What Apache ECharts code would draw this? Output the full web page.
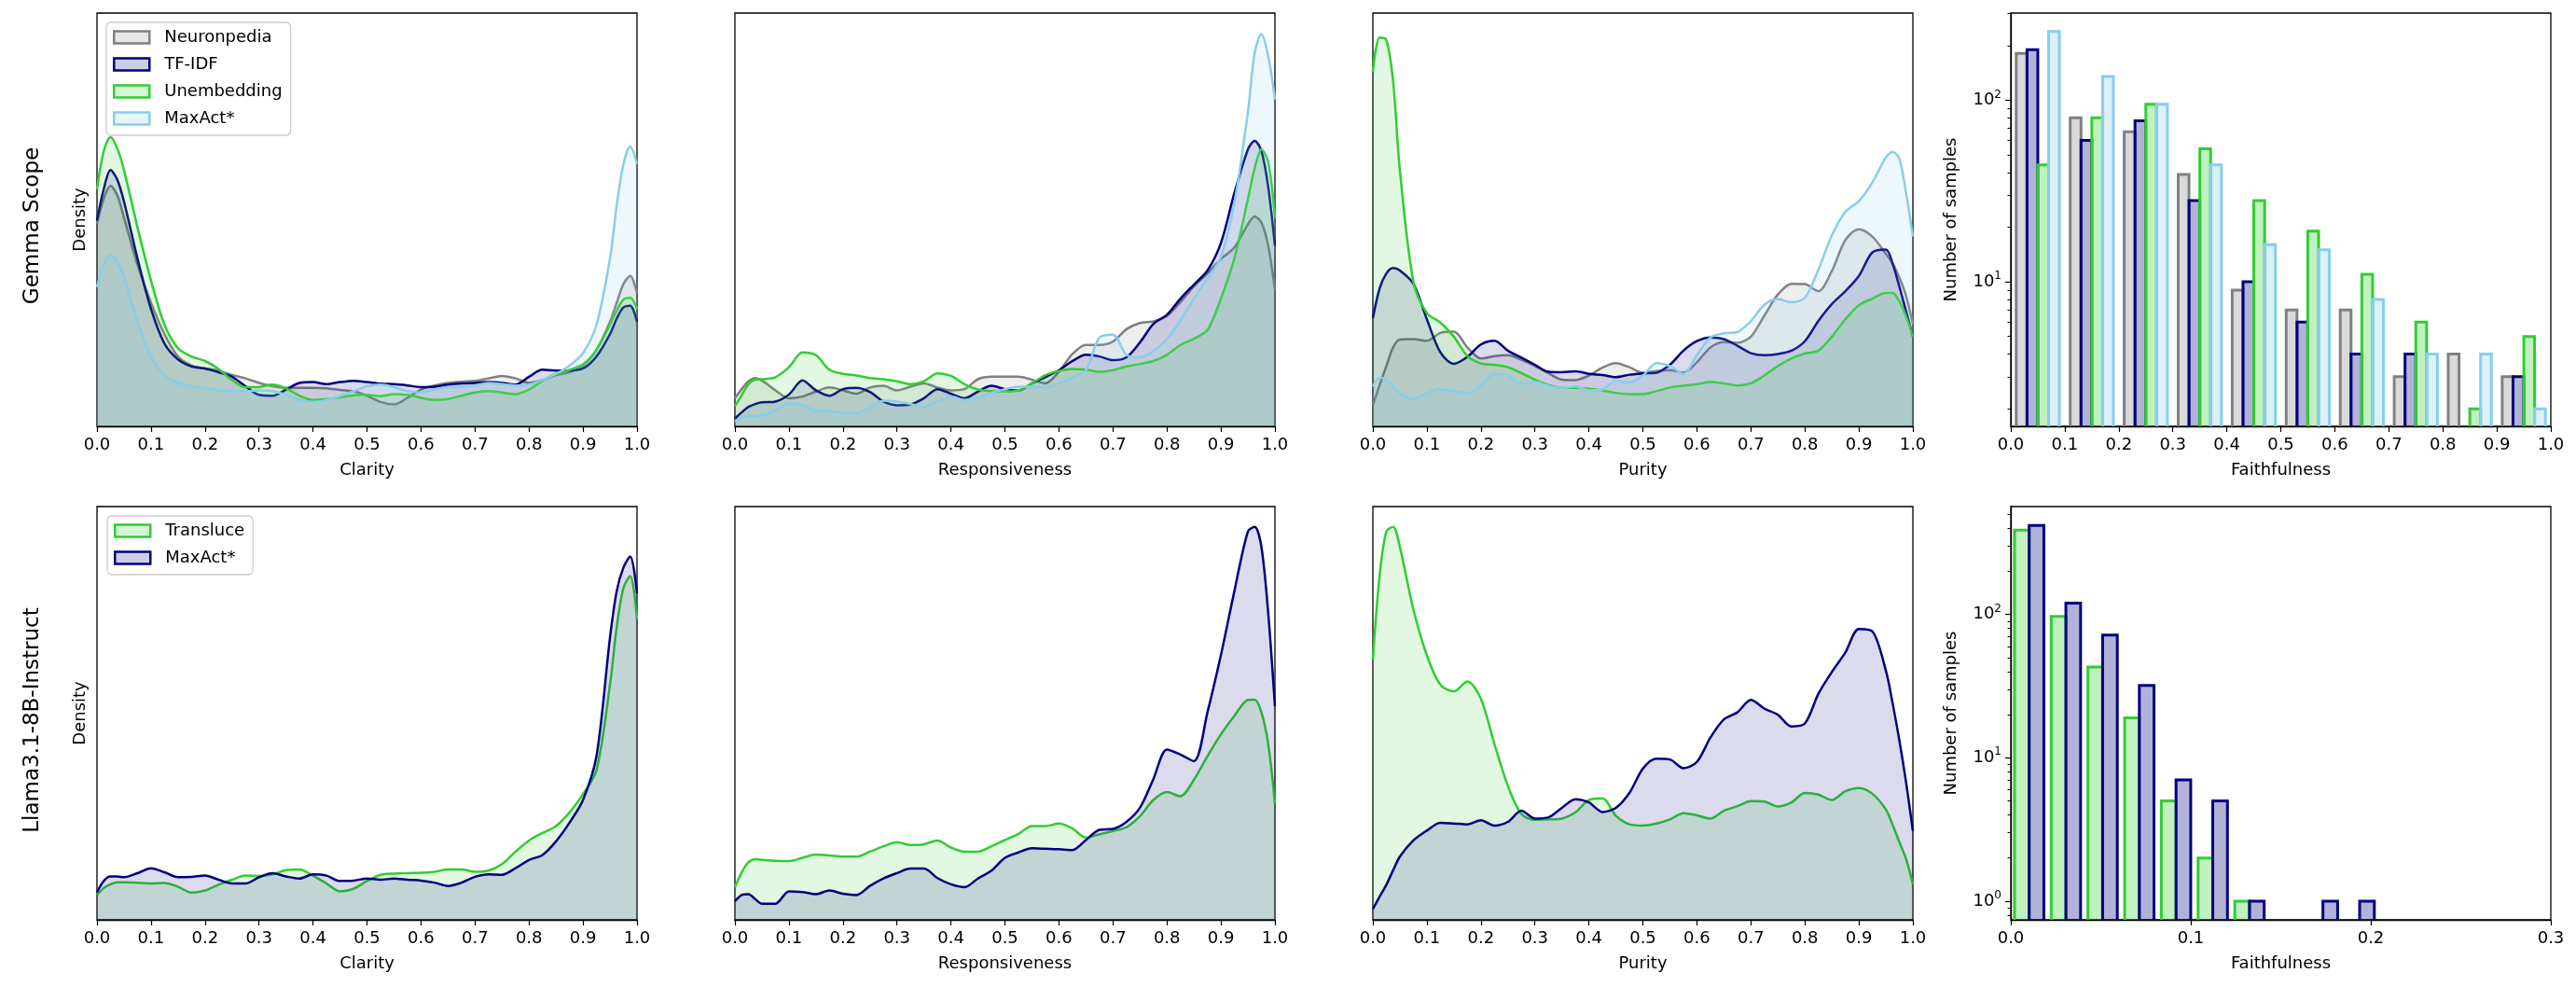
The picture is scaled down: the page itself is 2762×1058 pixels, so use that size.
<!DOCTYPE html>
<html>
<head>
<meta charset="utf-8">
<title>Explanation quality: Gemma Scope vs Llama3.1-8B-Instruct</title>
<script src="https://cdn.jsdelivr.net/npm/echarts@6.0.0/dist/echarts.min.js"></script>
<style>
  html, body { margin: 0; padding: 0; background: #fff; }
  #chart { width: 2762px; height: 1058px; }
</style>
</head>
<body>
<div id="chart"></div>
<script>
// x positions where the density curves were read (denser near the edges)
var X_GRID = [0, 0.0125, 0.025, 0.0375, 0.05, 0.075, 0.1, 0.125, 0.15, 0.175, 0.2, 0.225, 0.25, 0.275, 0.3,
  0.325, 0.35, 0.375, 0.4, 0.425, 0.45, 0.475, 0.5, 0.525, 0.55, 0.575, 0.6, 0.625, 0.65, 0.675, 0.7,
  0.725, 0.75, 0.775, 0.8, 0.825, 0.85, 0.875, 0.9, 0.925, 0.95, 0.9625, 0.975, 0.9875, 1.0];

// --- Gemma Scope: Clarity
var gemmaClarityNeuronpedia = [4.90,5.51,5.82,5.59,5.05,3.91,2.99,2.23,1.69,1.47,1.40,1.35,1.24,1.16,1.05,0.97,0.93,0.93,0.93,0.92,0.88,0.85,0.74,0.59,0.53,0.69,0.89,0.99,1.05,1.08,1.10,1.16,1.22,1.16,1.05,1.12,1.24,1.31,1.47,1.85,2.53,2.99,3.45,3.64,3.22];
var gemmaClarityTfidf = [4.98,5.74,6.20,5.97,5.44,4.06,2.84,2.00,1.62,1.45,1.40,1.31,1.20,0.97,0.76,0.74,0.89,1.05,1.07,1.02,1.07,1.10,1.07,1.03,1.02,0.99,0.95,0.96,1.01,1.04,1.05,1.07,1.05,1.01,1.20,1.37,1.35,1.35,1.40,1.69,2.23,2.61,2.88,2.92,2.53];
var gemmaClarityUnemb = [5.74,6.66,7.00,6.73,6.20,4.82,3.53,2.46,1.89,1.69,1.58,1.39,1.12,0.95,0.95,1.01,0.92,0.74,0.64,0.66,0.70,0.75,0.76,0.73,0.78,0.76,0.69,0.64,0.66,0.74,0.82,0.85,0.82,0.78,0.89,1.10,1.27,1.37,1.50,1.85,2.46,2.80,3.07,3.11,2.84];
var gemmaClarityMaxact = [3.37,3.91,4.15,3.98,3.60,2.53,1.69,1.24,1.05,0.97,0.92,0.87,0.85,0.85,0.87,0.85,0.76,0.64,0.59,0.64,0.74,0.85,0.97,1.01,0.95,0.85,0.82,0.89,0.95,0.95,0.99,1.05,1.02,0.99,1.01,1.12,1.27,1.47,1.77,2.46,4.06,5.36,6.35,6.77,6.35];

// --- Gemma Scope: Responsiveness
var gemmaRespNeuronpedia = [0.68,0.90,1.09,1.17,1.11,0.87,0.68,0.72,0.84,0.94,0.87,0.79,0.94,0.98,0.87,0.96,1.04,0.94,0.87,0.90,1.14,1.20,1.20,1.20,1.13,1.04,1.32,1.75,1.97,1.97,2.05,2.35,2.50,2.54,2.67,3.01,3.39,3.70,4.05,4.33,4.89,5.08,4.93,4.37,3.31];
var gemmaRespTfidf = [0.19,0.34,0.47,0.54,0.58,0.60,0.77,1.11,0.87,0.74,0.90,0.93,0.83,0.60,0.51,0.53,0.68,0.90,0.79,0.68,0.84,0.98,0.90,0.87,1.04,1.19,1.36,1.58,1.73,1.69,1.60,1.67,2.03,2.48,2.70,3.09,3.43,3.77,4.44,5.65,6.70,6.91,6.66,5.80,4.37];
var gemmaRespUnemb = [0.49,0.75,1.02,1.13,1.14,1.19,1.43,1.79,1.72,1.37,1.27,1.23,1.17,1.14,1.09,1.02,1.09,1.28,1.22,1.02,0.89,0.85,0.84,0.87,1.04,1.24,1.34,1.39,1.37,1.32,1.36,1.45,1.51,1.58,1.73,1.97,2.12,2.33,3.09,4.07,5.50,6.25,6.70,6.40,5.05];
var gemmaRespMaxact = [0.11,0.21,0.26,0.25,0.26,0.39,0.56,0.51,0.38,0.36,0.34,0.32,0.45,0.62,0.60,0.54,0.47,0.60,0.72,0.64,0.69,0.81,0.90,0.96,0.96,0.94,1.04,1.18,1.36,2.15,2.22,1.73,1.67,1.82,2.11,2.56,3.09,3.58,4.10,5.42,7.61,9.04,9.49,8.96,7.91];

// --- Gemma Scope: Purity
var gemmaPurityNeuronpedia = [0.51,1.00,1.46,1.91,2.10,2.11,2.07,2.26,2.29,1.91,1.64,1.70,1.72,1.61,1.46,1.29,1.13,1.12,1.23,1.42,1.53,1.43,1.30,1.34,1.36,1.30,1.55,1.91,2.04,2.02,2.17,2.68,3.19,3.45,3.44,3.27,3.76,4.51,4.77,4.59,4.17,3.94,3.60,3.15,2.47];
var gemmaPurityTfidf = [2.62,3.34,3.70,3.83,3.77,3.45,2.59,1.79,1.51,1.68,1.98,2.07,1.83,1.66,1.49,1.32,1.31,1.33,1.27,1.24,1.19,1.25,1.28,1.30,1.49,1.83,2.06,2.15,2.11,1.95,1.77,1.72,1.75,1.83,2.06,2.55,2.96,3.27,3.64,4.21,4.28,3.94,3.38,2.78,2.17];
var gemmaPurityUnemb = [8.58,9.41,9.35,8.35,6.20,3.50,2.74,2.51,2.17,1.70,1.52,1.49,1.43,1.29,1.13,1.00,0.93,0.93,0.91,0.87,0.81,0.78,0.78,0.85,0.94,0.98,1.02,1.07,1.04,0.99,1.04,1.23,1.46,1.64,1.76,1.83,2.17,2.59,2.93,3.09,3.23,3.23,3.02,2.66,2.17];
var gemmaPurityMaxact = [0.97,1.18,1.13,0.97,0.80,0.66,0.80,0.89,0.85,0.80,0.97,1.27,1.23,1.03,1.07,0.98,0.93,0.97,0.87,0.89,1.10,1.06,1.23,1.53,1.46,1.27,1.72,2.15,2.25,2.28,2.55,2.94,3.08,3.00,3.11,3.79,4.62,5.19,5.45,5.90,6.51,6.64,6.47,5.64,4.59];

// --- Llama3.1-8B-Instruct: Clarity / Responsiveness / Purity
var llamaClarityTransluce = [0.60,0.77,0.86,0.91,0.91,0.90,0.88,0.89,0.80,0.66,0.71,0.85,0.97,1.07,1.06,1.10,1.20,1.22,1.07,0.88,0.69,0.75,0.94,1.09,1.12,1.13,1.14,1.16,1.22,1.22,1.16,1.19,1.35,1.65,1.92,2.10,2.27,2.60,3.04,3.62,5.69,7.09,8.04,8.32,7.28];
var llamaClarityMaxact = [0.67,0.94,1.05,1.05,1.03,1.13,1.25,1.15,1.03,1.04,1.07,0.97,0.88,0.88,1.03,1.13,1.05,1.00,1.10,1.07,0.94,0.95,1.00,0.97,1.00,0.97,0.95,0.90,0.82,0.90,1.04,1.10,1.09,1.25,1.45,1.57,1.90,2.35,2.90,3.96,6.83,7.96,8.53,8.79,7.89];
var llamaRespTransluce = [0.79,1.15,1.39,1.47,1.45,1.43,1.42,1.50,1.58,1.56,1.53,1.53,1.65,1.78,1.88,1.81,1.83,1.92,1.75,1.65,1.65,1.78,1.93,2.08,2.27,2.27,2.33,2.21,1.99,2.07,2.15,2.24,2.51,2.90,3.09,2.99,3.39,3.96,4.49,4.94,5.32,5.33,5.02,4.26,2.82];
var llamaRespMaxact = [0.45,0.60,0.62,0.50,0.39,0.39,0.69,0.67,0.62,0.71,0.63,0.60,0.82,1.00,1.13,1.24,1.24,1.01,0.86,0.79,1.00,1.19,1.50,1.63,1.73,1.72,1.71,1.69,1.93,2.18,2.20,2.37,2.71,3.41,4.12,4.00,3.84,5.02,6.41,7.96,9.40,9.51,9.02,7.43,5.17];
var llamaPurityTransluce = [6.30,8.34,9.40,9.51,9.02,7.51,6.40,5.69,5.53,5.77,5.35,4.26,3.24,2.56,2.42,2.43,2.45,2.60,2.90,2.94,2.52,2.31,2.28,2.33,2.43,2.58,2.53,2.45,2.64,2.75,2.87,2.86,2.74,2.84,3.07,3.03,2.90,3.11,3.19,3.05,2.67,2.30,1.88,1.47,0.86];
var llamaPurityMaxact = [0.26,0.56,0.85,1.20,1.53,1.92,2.16,2.35,2.33,2.31,2.41,2.28,2.37,2.64,2.45,2.48,2.71,2.92,2.84,2.61,2.71,3.07,3.66,3.90,3.88,3.67,3.82,4.41,4.85,5.02,5.32,5.11,4.96,4.68,4.75,5.47,6.00,6.47,7.04,6.98,6.03,5.24,4.34,3.32,2.15];

// --- Faithfulness histograms (counts per bin)
var gemmaFaithEdges = [0, 0.1, 0.2, 0.3, 0.4, 0.5, 0.6, 0.7, 0.8, 0.9, 1.0];
var gemmaFaithNeuronpedia = [181, 80, 67, 39, 9, 7, 7, 3, 4, 3];
var gemmaFaithTfidf = [190, 60, 77, 28, 10, 6, 4, 4, 0, 3];
var gemmaFaithUnemb = [44, 80, 95, 54, 28, 19, 11, 6, 2, 5];
var gemmaFaithMaxact = [239, 135, 95, 44, 16, 15, 8, 4, 4, 2];

var llamaFaithEdges = [0, 0.0204, 0.0408, 0.0612, 0.0816, 0.102, 0.1224, 0.1428, 0.1632, 0.1836, 0.204];
var llamaFaithTransluce = [388, 97, 43, 19, 5, 2, 1, 0, 0, 0];
var llamaFaithMaxact = [419, 120, 72, 32, 7, 5, 1, 0, 1, 1];

// log-axis tick values
var gemmaLogMajor = [10, 100];
var gemmaLogMinor = [2, 3, 4, 5, 6, 7, 8, 9, 20, 30, 40, 50, 60, 70, 80, 90, 200, 300];
var llamaLogMajor = [1, 10, 100];
var llamaLogMinor = [0.8, 0.9, 2, 3, 4, 5, 6, 7, 8, 9, 20, 30, 40, 50, 60, 70, 80, 90, 200, 300, 400, 500];

// ---------------------------------------------------------------------------
var FONT = 'DejaVu Sans';
var GRAY = '#808080', NAVY = '#000080', GREEN = '#32cd32', SKY = '#87ceeb';
var GRID_LEFT = [104, 788, 1472, 2156];
var GRID_TOP = [14, 543];
var GRID_W = 579, GRID_H = 443;

function rgba(hex, a) {
  var n = parseInt(hex.slice(1), 16);
  return 'rgba(' + (n >> 16 & 255) + ',' + (n >> 8 & 255) + ',' + (n & 255) + ',' + a + ')';
}

var grids = [], xAxes = [], yAxes = [], series = [];

function addGrid(row, col) {
  grids.push({
    left: GRID_LEFT[col], top: GRID_TOP[row], width: GRID_W, height: GRID_H,
    show: true, borderColor: '#000', borderWidth: 1.3, backgroundColor: 'transparent',
    containLabel: false, outerBoundsMode: 'none'
  });
  return grids.length - 1;
}

function addXAxis(gi, name, max) {
  xAxes.push({
    gridIndex: gi, type: 'value', min: 0, max: max, interval: 0.1,
    name: name, nameLocation: 'middle', nameGap: 38, nameMoveOverlap: false,
    nameTextStyle: { fontFamily: FONT, fontSize: 18, color: '#000' },
    axisLine: { show: true, onZero: false, lineStyle: { color: '#000', width: 1.3 } },
    axisTick: { show: true, length: 6, lineStyle: { color: '#000', width: 1.2 } },
    axisLabel: { fontFamily: FONT, fontSize: 18, color: '#000', margin: 11,
      formatter: function (v) { return v.toFixed(1); } },
    splitLine: { show: false }
  });
  return xAxes.length - 1;
}

function addDensityYAxis(gi, name) {
  yAxes.push({
    gridIndex: gi, type: 'value', min: 0, max: 10,
    name: name, nameLocation: 'middle', nameGap: 9, nameMoveOverlap: false,
    nameTextStyle: { fontFamily: FONT, fontSize: 18, color: '#000' },
    axisLine: { show: false }, axisTick: { show: false }, axisLabel: { show: false },
    splitLine: { show: false }
  });
  return yAxes.length - 1;
}

function addLogYAxis(gi, min, max, majors, minors) {
  yAxes.push({
    gridIndex: gi, type: 'log', logBase: 10, min: min, max: max, position: 'left',
    name: 'Number of samples', nameLocation: 'middle', nameGap: 55, nameMoveOverlap: false,
    nameTextStyle: { fontFamily: FONT, fontSize: 18, color: '#000' },
    axisLine: { show: true, lineStyle: { color: '#000', width: 1.3 } },
    axisTick: { show: true, length: 6, customValues: majors, lineStyle: { color: '#000', width: 1.2 } },
    axisLabel: {
      customValues: majors, margin: 10, color: '#000',
      formatter: function (v) {
        var e = Math.round(Math.log10(v));
        if (Math.abs(Math.log10(v) - e) > 1e-6) return '';
        return '{b|10}{s|' + e + '}';
      },
      rich: {
        b: { fontFamily: FONT, fontSize: 18, lineHeight: 24, color: '#000' },
        s: { fontFamily: FONT, fontSize: 12, lineHeight: 12, verticalAlign: 'top', color: '#000' }
      }
    },
    splitLine: { show: false }
  });
  var main = yAxes.length - 1;
  // second, invisible axis only carrying the minor ticks
  yAxes.push({
    gridIndex: gi, type: 'log', logBase: 10, min: min, max: max, position: 'left',
    axisLine: { show: false }, axisLabel: { show: false },
    axisTick: { show: true, length: 3.5, customValues: minors, lineStyle: { color: '#000', width: 1 } },
    splitLine: { show: false }
  });
  return main;
}

function densitySeries(name, color, values, xi, yi, order) {
  return {
    type: 'line', name: name, xAxisIndex: xi, yAxisIndex: yi, z: 2 + order,
    data: X_GRID.map(function (x, i) { return [x, values[i]]; }),
    symbol: 'none', showSymbol: false, smooth: 0.3,
    lineStyle: { color: color, width: 2.5 }, itemStyle: { color: color },
    areaStyle: { color: rgba(color, 0.2), origin: 'start' },
    emphasis: { disabled: true }, silent: true
  };
}

// matplotlib-like side-by-side histogram: bars share 80 % of each bin
function histSeries(name, color, counts, edges, k, n, xi, yi, order) {
  var dr = 0.8, data = [];
  counts.forEach(function (c, i) {
    if (c <= 0) return;
    var w = edges[i + 1] - edges[i];
    var x0 = edges[i] + w * ((1 - dr) / 2 + k * dr / n);
    data.push([x0, x0 + w * dr / n, c]);
  });
  return {
    type: 'custom', name: name, xAxisIndex: xi, yAxisIndex: yi, z: 2 + order, clip: true,
    data: data, encode: { x: [0, 1], y: 2 }, silent: true,
    renderItem: function (params, api) {
      var a = api.coord([api.value(0), api.value(2)]);
      var b = api.coord([api.value(1), api.value(2)]);
      var bottom = params.coordSys.y + params.coordSys.height + 10;
      return {
        type: 'rect',
        shape: { x: a[0], y: a[1], width: b[0] - a[0], height: bottom - a[1] },
        style: { fill: rgba(color, 0.3), stroke: color, lineWidth: 3 }
      };
    }
  };
}

var densityPanels = [
  { row: 0, col: 0, xName: 'Clarity', yName: 'Density', curves: [
    ['Neuronpedia', GRAY, gemmaClarityNeuronpedia], ['TF-IDF', NAVY, gemmaClarityTfidf],
    ['Unembedding', GREEN, gemmaClarityUnemb], ['MaxAct*', SKY, gemmaClarityMaxact]] },
  { row: 0, col: 1, xName: 'Responsiveness', yName: '', curves: [
    ['Neuronpedia', GRAY, gemmaRespNeuronpedia], ['TF-IDF', NAVY, gemmaRespTfidf],
    ['Unembedding', GREEN, gemmaRespUnemb], ['MaxAct*', SKY, gemmaRespMaxact]] },
  { row: 0, col: 2, xName: 'Purity', yName: '', curves: [
    ['Neuronpedia', GRAY, gemmaPurityNeuronpedia], ['TF-IDF', NAVY, gemmaPurityTfidf],
    ['Unembedding', GREEN, gemmaPurityUnemb], ['MaxAct*', SKY, gemmaPurityMaxact]] },
  { row: 1, col: 0, xName: 'Clarity', yName: 'Density', curves: [
    ['Transluce', GREEN, llamaClarityTransluce], ['MaxAct*', NAVY, llamaClarityMaxact]] },
  { row: 1, col: 1, xName: 'Responsiveness', yName: '', curves: [
    ['Transluce', GREEN, llamaRespTransluce], ['MaxAct*', NAVY, llamaRespMaxact]] },
  { row: 1, col: 2, xName: 'Purity', yName: '', curves: [
    ['Transluce', GREEN, llamaPurityTransluce], ['MaxAct*', NAVY, llamaPurityMaxact]] }
];

densityPanels.forEach(function (p) {
  var gi = addGrid(p.row, p.col);
  var xi = addXAxis(gi, p.xName, 1);
  var yi = addDensityYAxis(gi, p.yName);
  p.curves.forEach(function (c, j) {
    series.push(densitySeries(c[0], c[1], c[2], xi, yi, j));
  });
});

var histPanels = [
  { row: 0, col: 3, max: 1, yMin: 1.6, yMax: 302, edges: gemmaFaithEdges,
    major: gemmaLogMajor, minor: gemmaLogMinor, bars: [
    ['Neuronpedia', GRAY, gemmaFaithNeuronpedia], ['TF-IDF', NAVY, gemmaFaithTfidf],
    ['Unembedding', GREEN, gemmaFaithUnemb], ['MaxAct*', SKY, gemmaFaithMaxact]] },
  { row: 1, col: 3, max: 0.3, yMin: 0.74, yMax: 567, edges: llamaFaithEdges,
    major: llamaLogMajor, minor: llamaLogMinor, bars: [
    ['Transluce', GREEN, llamaFaithTransluce], ['MaxAct*', NAVY, llamaFaithMaxact]] }
];

histPanels.forEach(function (p) {
  var gi = addGrid(p.row, p.col);
  var xi = addXAxis(gi, 'Faithfulness', p.max);
  var yi = addLogYAxis(gi, p.yMin, p.yMax, p.major, p.minor);
  p.bars.forEach(function (b, j) {
    series.push(histSeries(b[0], b[1], b[2], p.edges, j, p.bars.length, xi, yi, j));
  });
});

function legendItem(name, color) {
  return { name: name, itemStyle: { color: rgba(color, 0.2), borderColor: color, borderWidth: 2.5 } };
}
var legendBase = {
  orient: 'vertical', icon: 'rect', itemWidth: 38, itemHeight: 13, itemGap: 11,
  selectedMode: false, z: 10, padding: [7, 9, 9, 7],
  backgroundColor: 'rgba(255,255,255,0.8)', borderColor: '#cccccc', borderWidth: 1.3, borderRadius: 5,
  textStyle: { fontFamily: FONT, fontSize: 18, lineHeight: 18, color: '#000', padding: [0, 0, 0, 11] }
};

var option = {
  animation: false,
  backgroundColor: '#fff',
  textStyle: { fontFamily: FONT },
  grid: grids,
  xAxis: xAxes,
  yAxis: yAxes,
  legend: [
    Object.assign({}, legendBase, { left: 114, top: 24, data: [
      legendItem('Neuronpedia', GRAY), legendItem('TF-IDF', NAVY),
      legendItem('Unembedding', GREEN), legendItem('MaxAct*', SKY)] }),
    Object.assign({}, legendBase, { left: 115, top: 553, data: [
      legendItem('Transluce', GREEN), legendItem('MaxAct*', NAVY)] })
  ],
  graphic: [
    { type: 'text', x: 35, y: 242, rotation: Math.PI / 2,
      style: { text: 'Gemma Scope', font: '23px "DejaVu Sans"', fill: '#000', align: 'center', verticalAlign: 'middle' } },
    { type: 'text', x: 35, y: 772, rotation: Math.PI / 2,
      style: { text: 'Llama3.1-8B-Instruct', font: '23px "DejaVu Sans"', fill: '#000', align: 'center', verticalAlign: 'middle' } }
  ],
  series: series
};

var myChart = echarts.init(document.getElementById('chart'));
myChart.setOption(option);
</script>
</body>
</html>
